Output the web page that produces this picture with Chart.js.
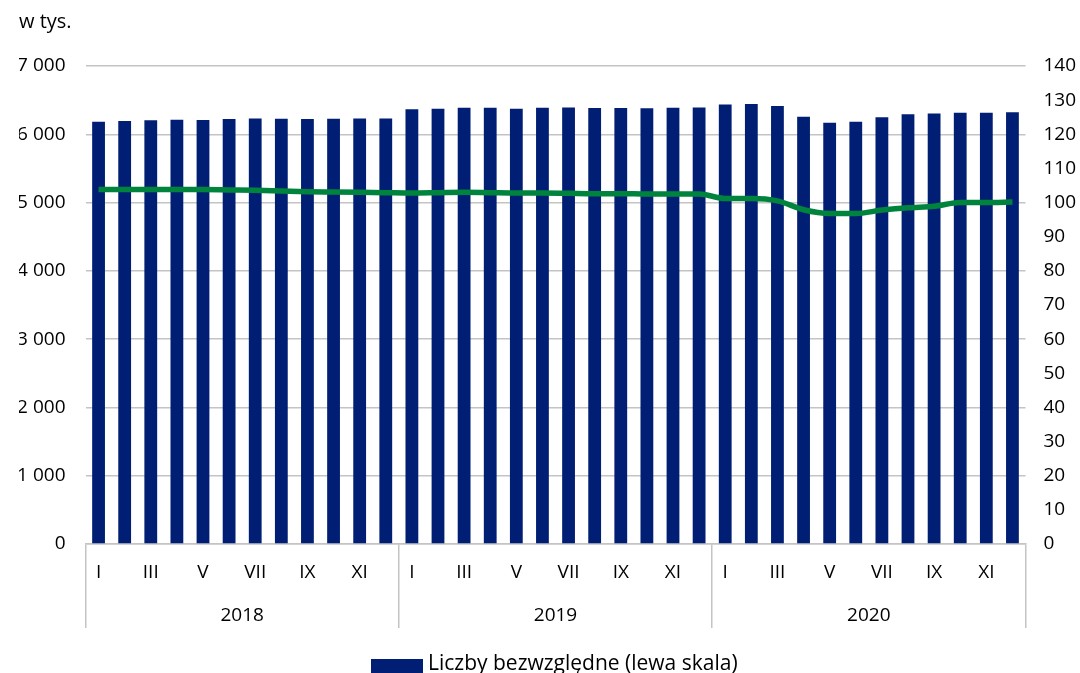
<!DOCTYPE html>
<html>
<head>
<meta charset="utf-8">
<script src="https://cdn.jsdelivr.net/npm/chart.js@4/dist/chart.umd.min.js"></script>
<style>
  html, body { margin: 0; padding: 0; background: #fff; overflow: hidden; }
  #wrap { position: relative; width: 1080px; height: 673px; }
  #legend { position: absolute; left: 371px; top: 648px; font: 21px/28px "Open Sans", sans-serif; color: #000; }
  #legend .item { display: flex; align-items: flex-start; height: 28px; white-space: nowrap; }
  #legend .box { width: 52px; height: 14px; margin-top: 11px; background: #001e73; margin-right: 5px; }
  #legend .ln { width: 52px; height: 5px; margin-top: 15px; background: #00843d; margin-right: 5px; }
</style>
</head>
<body>
<div id="wrap">
  <canvas id="chart" width="1080" height="673"></canvas>
  <div id="legend">
    <div class="item"><span class="box"></span>Liczby bezwzględne (lewa skala)</div>
    <div class="item"><span class="ln"></span>Dynamika (prawa skala)</div>
  </div>
</div>
<script>
const months = ['I', 'II', 'III', 'IV', 'V', 'VI', 'VII', 'VIII', 'IX', 'X', 'XI', 'XII'];
const years = ['2018', '2019', '2020'];

// liczby bezwzględne, w tys. (lewa skala)
const abs2018 = [6184, 6194, 6204, 6213, 6209, 6223, 6233, 6228, 6223, 6228, 6233, 6233];
const abs2019 = [6365, 6375, 6389, 6389, 6375, 6389, 6394, 6384, 6384, 6380, 6389, 6394];
const abs2020 = [6438, 6443, 6414, 6257, 6170, 6184, 6248, 6292, 6306, 6316, 6316, 6321];

// dynamika (prawa skala)
const dyn2018 = [103.8, 103.8, 103.8, 103.8, 103.8, 103.7, 103.6, 103.4, 103.2, 103.1, 103.0, 102.9];
const dyn2019 = [102.8, 102.9, 103.0, 102.9, 102.8, 102.8, 102.7, 102.6, 102.6, 102.5, 102.5, 102.5];
const dyn2020 = [101.2, 101.2, 100.5, 97.9, 96.8, 96.8, 97.8, 98.5, 98.9, 100.0, 100.0, 100.2];

const labels = years.flatMap(() => months);
const FAMILY = '"Open Sans", sans-serif';
const GRID = '#c4c4c4';

function spaced(v) {
  return String(v).replace(/\B(?=(\d{3})+(?!\d))/g, ' ');
}

const ctx = document.getElementById('chart').getContext('2d');
new Chart(ctx, {
  type: 'bar',
  data: {
    labels: labels,
    datasets: [
      {
        label: 'Dynamika (prawa skala)',
        type: 'line',
        data: dyn2018.concat(dyn2019, dyn2020),
        yAxisID: 'y1',
        borderColor: '#00843d',
        borderWidth: 5.5,
        pointRadius: 0,
        cubicInterpolationMode: 'monotone',
        order: 0
      },
      {
        label: 'Liczby bezwzględne (lewa skala)',
        data: abs2018.concat(abs2019, abs2020),
        yAxisID: 'y',
        backgroundColor: '#001e73',
        barPercentage: 0.49,
        categoryPercentage: 1,
        order: 1
      }
    ]
  },
  options: {
    responsive: false,
    animation: false,
    layout: { padding: { left: 19, right: 0, top: 0, bottom: 39 } },
    plugins: {
      legend: { display: false },
      tooltip: { enabled: false },
      title: {
        display: true,
        text: 'w tys.',
        align: 'start',
        color: '#000',
        font: { family: FAMILY, size: 20, weight: 'normal' },
        padding: { top: 10, bottom: 32 }
      }
    },
    scales: {
      x: {
        position: 'bottom',
        grid: {
          offset: true,
          drawOnChartArea: false,
          drawTicks: true,
          tickLength: 84,
          lineWidth: 1.5,
          color: (c) => (c.index === undefined || c.index % 12 === 0) ? GRID : 'rgba(0,0,0,0)'
        },
        border: { display: true, color: GRID, width: 1.5 },
        ticks: {
          autoSkip: false,
          maxRotation: 0,
          padding: -67,
          color: '#000',
          font: { family: FAMILY, size: 19 },
          callback: function (value, index) {
            return index % 2 === 0 ? this.getLabelForValue(value) : '';
          }
        },
        afterFit: (s) => { s.height = 40; }
      },
      x2: {
        type: 'linear',
        position: 'bottom',
        offset: false,
        min: 0,
        max: 36,
        grid: { display: false },
        border: { display: false },
        afterBuildTicks: (s) => { s.ticks = [6, 18, 30].map((v) => ({ value: v })); },
        ticks: {
          padding: 12,
          color: '#000',
          font: { family: FAMILY, size: 19 },
          callback: (v, i) => years[i]
        },
        afterFit: (s) => { s.height = 50; }
      },
      y: {
        position: 'left',
        min: 0,
        max: 7000,
        grid: { color: GRID, lineWidth: 1.5, drawTicks: false },
        border: { display: false },
        ticks: {
          stepSize: 1000,
          padding: 20,
          color: '#000',
          font: { family: FAMILY, size: 19 },
          callback: (v) => spaced(v)
        },
        afterFit: (s) => { s.width = 66.5; }
      },
      y1: {
        position: 'right',
        min: 0,
        max: 140,
        grid: { drawOnChartArea: false, drawTicks: false },
        border: { display: false },
        ticks: {
          stepSize: 10,
          padding: 18,
          color: '#000',
          font: { family: FAMILY, size: 19 }
        },
        afterFit: (s) => { s.width = 54.5; }
      }
    }
  }
});
</script>
</body>
</html>
